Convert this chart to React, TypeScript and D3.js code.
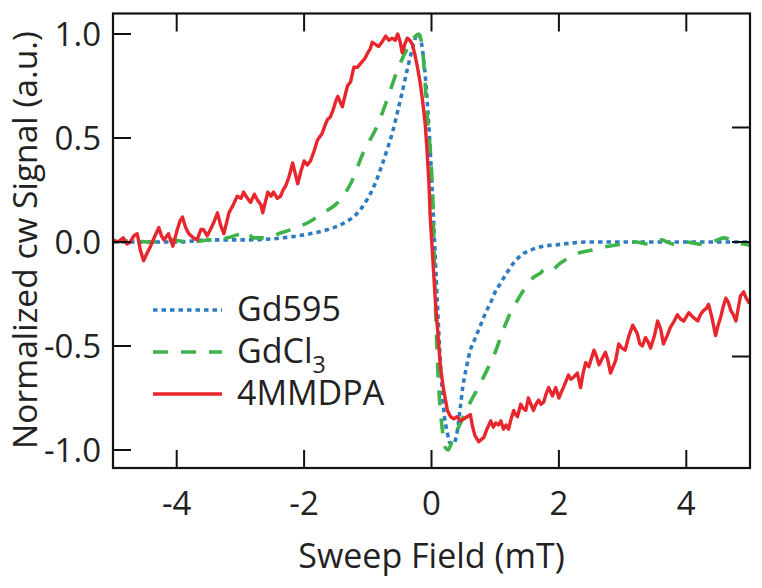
import React from "react";
import * as d3 from "d3";

// ---------- data ----------
const xTicks = [-4, -2, 0, 2, 4];
const yTicks = [1.0, 0.5, 0.0, -0.5, -1.0];
const rightTicks = [0.5, 0.0, -0.5];

const seriesNames = ["Gd595", "GdCl", "4MMDPA"];

const gd595: [number, number][] = [
  [-5.0, 0.0], [-4.5, 0.0], [-4.0, 0.0], [-3.5, 0.01], [-3.0, 0.01], [-2.5, 0.015],
  [-2.2, 0.025], [-1.9, 0.04], [-1.63, 0.06], [-1.38, 0.09], [-1.16, 0.14], [-1.0, 0.21],
  [-0.9, 0.27], [-0.8, 0.35], [-0.69, 0.45], [-0.61, 0.53], [-0.53, 0.63], [-0.46, 0.72],
  [-0.38, 0.83], [-0.3, 0.93], [-0.24, 0.99], [-0.2, 1.0], [-0.16, 0.96], [-0.12, 0.87],
  [-0.07, 0.69], [-0.02, 0.44], [0.03, 0.12], [0.09, -0.28], [0.14, -0.58], [0.19, -0.8],
  [0.25, -0.92], [0.3, -0.97], [0.34, -0.97], [0.41, -0.9], [0.45, -0.8], [0.49, -0.7],
  [0.55, -0.6], [0.61, -0.52], [0.69, -0.46], [0.77, -0.4], [0.85, -0.34], [0.93, -0.29],
  [1.0, -0.24], [1.08, -0.2], [1.18, -0.15], [1.29, -0.1], [1.42, -0.06], [1.55, -0.04],
  [1.75, -0.02], [1.92, -0.015], [2.2, -0.005], [2.45, 0.0], [3.0, 0.0], [3.5, 0.0],
  [4.0, 0.0], [4.5, 0.0], [5.0, 0.0],
];

const gdcl3: [number, number][] = [
  [-5.0, 0.0], [-4.7, 0.005], [-4.4, 0.0], [-4.1, 0.01], [-3.8, 0.0], [-3.5, 0.01],
  [-3.2, 0.02], [-3.0, 0.04], [-2.9, 0.05], [-2.8, 0.02], [-2.6, 0.02], [-2.4, 0.04],
  [-2.2, 0.06], [-1.9, 0.1], [-1.7, 0.14], [-1.47, 0.19], [-1.27, 0.28], [-1.07, 0.43],
  [-0.85, 0.56], [-0.69, 0.69], [-0.53, 0.83], [-0.38, 0.93], [-0.25, 0.99], [-0.2, 1.0],
  [-0.14, 0.92], [-0.07, 0.62], [0.02, 0.2], [0.06, -0.28], [0.11, -0.68], [0.17, -0.9],
  [0.22, -0.99], [0.26, -1.0], [0.32, -0.96], [0.41, -0.9], [0.5, -0.84], [0.61, -0.77],
  [0.75, -0.69], [0.88, -0.61], [1.0, -0.53], [1.13, -0.42], [1.24, -0.34], [1.35, -0.28],
  [1.45, -0.23], [1.6, -0.17], [1.71, -0.15], [1.78, -0.13], [1.85, -0.14], [2.03, -0.1],
  [2.29, -0.055], [2.5, -0.04], [2.7, -0.025], [2.97, -0.01], [3.2, 0.0], [3.4, -0.01],
  [3.6, 0.01], [3.8, -0.01], [4.0, 0.0], [4.2, -0.01], [4.4, 0.0], [4.6, 0.02],
  [4.75, 0.0], [4.9, -0.01], [5.0, -0.015],
];

const mmdpa: [number, number][] = [
  [-5.0, 0.01], [-4.92, 0.0], [-4.84, 0.02], [-4.78, -0.01], [-4.73, 0.0], [-4.67, 0.03],
  [-4.62, 0.04], [-4.57, -0.04], [-4.52, -0.09], [-4.46, -0.05], [-4.41, -0.02], [-4.34, 0.03],
  [-4.28, 0.07], [-4.24, 0.03], [-4.2, 0.01], [-4.13, 0.04], [-4.06, -0.02], [-4.0, 0.05],
  [-3.95, 0.1], [-3.91, 0.12], [-3.86, 0.07], [-3.81, 0.04], [-3.74, 0.02], [-3.68, 0.01],
  [-3.62, 0.06], [-3.58, 0.06], [-3.52, 0.03], [-3.47, 0.06], [-3.41, 0.1], [-3.36, 0.14],
  [-3.31, 0.08], [-3.26, 0.04], [-3.22, 0.09], [-3.18, 0.14], [-3.11, 0.18], [-3.05, 0.22],
  [-2.99, 0.21], [-2.95, 0.24], [-2.89, 0.21], [-2.84, 0.19], [-2.78, 0.23], [-2.73, 0.2],
  [-2.68, 0.18], [-2.65, 0.14], [-2.61, 0.19], [-2.57, 0.24], [-2.52, 0.22], [-2.48, 0.24],
  [-2.42, 0.21], [-2.37, 0.22], [-2.33, 0.25], [-2.29, 0.27], [-2.24, 0.31], [-2.18, 0.38],
  [-2.14, 0.33], [-2.1, 0.28], [-2.05, 0.34], [-2.0, 0.39], [-1.95, 0.37], [-1.9, 0.39],
  [-1.84, 0.44], [-1.79, 0.49], [-1.72, 0.52], [-1.66, 0.57], [-1.63, 0.59], [-1.59, 0.6],
  [-1.55, 0.63], [-1.5, 0.68], [-1.47, 0.7], [-1.43, 0.67], [-1.4, 0.65], [-1.36, 0.7],
  [-1.32, 0.75], [-1.27, 0.77], [-1.22, 0.84], [-1.16, 0.84], [-1.11, 0.86], [-1.05, 0.88],
  [-1.0, 0.91], [-0.96, 0.93], [-0.93, 0.96], [-0.88, 0.95], [-0.83, 0.94], [-0.78, 0.96],
  [-0.72, 0.99], [-0.67, 0.97], [-0.62, 0.98], [-0.57, 0.97], [-0.53, 1.0], [-0.49, 0.96],
  [-0.46, 0.91], [-0.42, 0.95], [-0.38, 0.98], [-0.34, 0.97], [-0.3, 0.95], [-0.26, 0.9],
  [-0.22, 0.84], [-0.18, 0.77], [-0.14, 0.68], [-0.1, 0.57], [-0.07, 0.44], [-0.04, 0.28],
  [-0.02, 0.12], [0.02, -0.08], [0.06, -0.28], [0.1, -0.44], [0.14, -0.6], [0.19, -0.71],
  [0.25, -0.81], [0.3, -0.84], [0.35, -0.85], [0.4, -0.84], [0.46, -0.86], [0.51, -0.85],
  [0.56, -0.84], [0.61, -0.83], [0.64, -0.88], [0.68, -0.93], [0.74, -0.96], [0.78, -0.95],
  [0.82, -0.94], [0.87, -0.9], [0.93, -0.86], [0.97, -0.89], [1.01, -0.87], [1.05, -0.88],
  [1.09, -0.86], [1.13, -0.9], [1.17, -0.88], [1.21, -0.9], [1.25, -0.85], [1.29, -0.81],
  [1.32, -0.83], [1.35, -0.84], [1.4, -0.78], [1.44, -0.8], [1.48, -0.81], [1.52, -0.75],
  [1.56, -0.78], [1.6, -0.81], [1.64, -0.78], [1.68, -0.76], [1.72, -0.78], [1.76, -0.77],
  [1.8, -0.73], [1.84, -0.7], [1.87, -0.72], [1.9, -0.74], [1.95, -0.7], [2.0, -0.75],
  [2.04, -0.72], [2.07, -0.7], [2.11, -0.67], [2.15, -0.64], [2.19, -0.66], [2.23, -0.65],
  [2.29, -0.63], [2.34, -0.7], [2.38, -0.63], [2.42, -0.58], [2.47, -0.6], [2.51, -0.56],
  [2.55, -0.52], [2.59, -0.55], [2.63, -0.59], [2.68, -0.56], [2.73, -0.53], [2.77, -0.57],
  [2.81, -0.63], [2.85, -0.6], [2.89, -0.57], [2.94, -0.49], [2.99, -0.51], [3.04, -0.52],
  [3.1, -0.45], [3.16, -0.4], [3.23, -0.44], [3.27, -0.49], [3.31, -0.5], [3.36, -0.46],
  [3.4, -0.48], [3.44, -0.51], [3.5, -0.45], [3.55, -0.38], [3.6, -0.42], [3.64, -0.49],
  [3.7, -0.45], [3.75, -0.41], [3.81, -0.38], [3.86, -0.35], [3.91, -0.37], [3.96, -0.38],
  [4.04, -0.34], [4.1, -0.36], [4.18, -0.38], [4.22, -0.35], [4.27, -0.33], [4.31, -0.32],
  [4.35, -0.3], [4.4, -0.36], [4.46, -0.45], [4.5, -0.4], [4.54, -0.36], [4.58, -0.31],
  [4.62, -0.27], [4.66, -0.29], [4.7, -0.33], [4.74, -0.35], [4.78, -0.38], [4.82, -0.31],
  [4.85, -0.26], [4.9, -0.24], [4.94, -0.27], [4.98, -0.29], [5.0, -0.28],
];

// ---------- layout ----------
const W = 762;
const H = 588;
const left = 113;
const right = 750;
const top = 13.5;
const bottom = 468;
const FONT = "'Open Sans', 'Noto Sans', sans-serif";
const TICK_FS = 33;
const TITLE_FS = 34;
const LEGEND_FS = 34;

const BLUE = "#2e7cc2";
const GREEN = "#3db34a";
const RED = "#e8262d";

export default function App() {
  const x = d3.scaleLinear().domain([-5, 5]).range([left, right]);
  const y = d3.scaleLinear().domain([-1, 1]).range([450, 34]);
  // mirrored right axis has its own scale
  const yR = d3.scaleLinear().domain([-1, 1]).range([y(0) + 229, y(0) - 229]);

  const smooth = d3
    .line<[number, number]>()
    .x((d) => x(d[0]))
    .y((d) => y(d[1]))
    .curve(d3.curveMonotoneX);
  const raw = d3
    .line<[number, number]>()
    .x((d) => x(d[0]))
    .y((d) => y(d[1]))
    .curve(d3.curveLinear);

  const tickLen = 18;
  const legendX0 = 153;
  const legendX1 = 222;
  const legendRows = [310, 352, 394];

  return (
    <svg
      width={W}
      height={H}
      style={{ position: "absolute", left: 0, top: 0, background: "#fff" }}
      fontFamily={FONT}
    >
      <defs>
        <clipPath id="plotclip">
          <rect x={left} y={top} width={right - left} height={bottom - top} />
        </clipPath>
      </defs>

      <g clipPath="url(#plotclip)" fill="none" strokeLinejoin="round">
        <path d={smooth(gd595) || ""} stroke={BLUE} strokeWidth={3.6} strokeDasharray="4.5,4" />
        <path d={smooth(gdcl3) || ""} stroke={GREEN} strokeWidth={3.6} strokeDasharray="15,13" />
        <path d={raw(mmdpa) || ""} stroke={RED} strokeWidth={3.4} />
      </g>

      {/* frame */}
      <rect
        x={left}
        y={top}
        width={right - left}
        height={bottom - top}
        fill="none"
        stroke="#111"
        strokeWidth={2.2}
      />

      {/* bottom & top ticks */}
      {xTicks.map((t) => (
        <g key={"x" + t}>
          <line x1={x(t)} x2={x(t)} y1={bottom} y2={bottom - tickLen} stroke="#111" strokeWidth={2} />
          <line x1={x(t)} x2={x(t)} y1={top} y2={top + tickLen} stroke="#111" strokeWidth={2} />
          <text x={x(t)} y={515} textAnchor="middle" fontSize={TICK_FS} fill="#222">
            {t < 0 ? "-" + Math.abs(t) : String(t)}
          </text>
        </g>
      ))}

      {/* left ticks */}
      {yTicks.map((t) => (
        <g key={"y" + t}>
          <line x1={left} x2={left + tickLen} y1={y(t)} y2={y(t)} stroke="#111" strokeWidth={2} />
          <text x={101} y={y(t) + 12} textAnchor="end" fontSize={TICK_FS} fill="#222">
            {t < 0 ? "-" + Math.abs(t).toFixed(1) : t.toFixed(1)}
          </text>
        </g>
      ))}

      {/* right ticks */}
      {rightTicks.map((t) => (
        <line
          key={"r" + t}
          x1={right}
          x2={right - tickLen}
          y1={yR(t)}
          y2={yR(t)}
          stroke="#111"
          strokeWidth={2}
        />
      ))}

      {/* axis titles */}
      <text x={x(0)} y={568} textAnchor="middle" fontSize={TITLE_FS} fill="#222">
        Sweep Field (mT)
      </text>
      <text
        transform={`translate(37, 240) rotate(-90)`}
        textAnchor="middle"
        fontSize={TITLE_FS - 0.5}
        fill="#222"
      >
        Normalized cw Signal (a.u.)
      </text>

      {/* legend */}
      <line x1={legendX0} x2={legendX1} y1={legendRows[0]} y2={legendRows[0]} stroke={BLUE} strokeWidth={3.6} strokeDasharray="4.5,4" />
      <text x={237} y={legendRows[0] + 11} fontSize={LEGEND_FS} fill="#222">
        {seriesNames[0]}
      </text>
      <line x1={legendX0} x2={legendX1} y1={legendRows[1]} y2={legendRows[1]} stroke={GREEN} strokeWidth={3.6} strokeDasharray="15,13" />
      <text x={237} y={legendRows[1] + 11} fontSize={LEGEND_FS} fill="#222">
        {seriesNames[1]}
        <tspan fontSize={LEGEND_FS * 0.68} dy={10}>3</tspan>
      </text>
      <line x1={legendX0} x2={legendX1} y1={legendRows[2]} y2={legendRows[2]} stroke={RED} strokeWidth={3.4} />
      <text x={237} y={legendRows[2] + 11} fontSize={LEGEND_FS} fill="#222">
        {seriesNames[2]}
      </text>
    </svg>
  );
}
